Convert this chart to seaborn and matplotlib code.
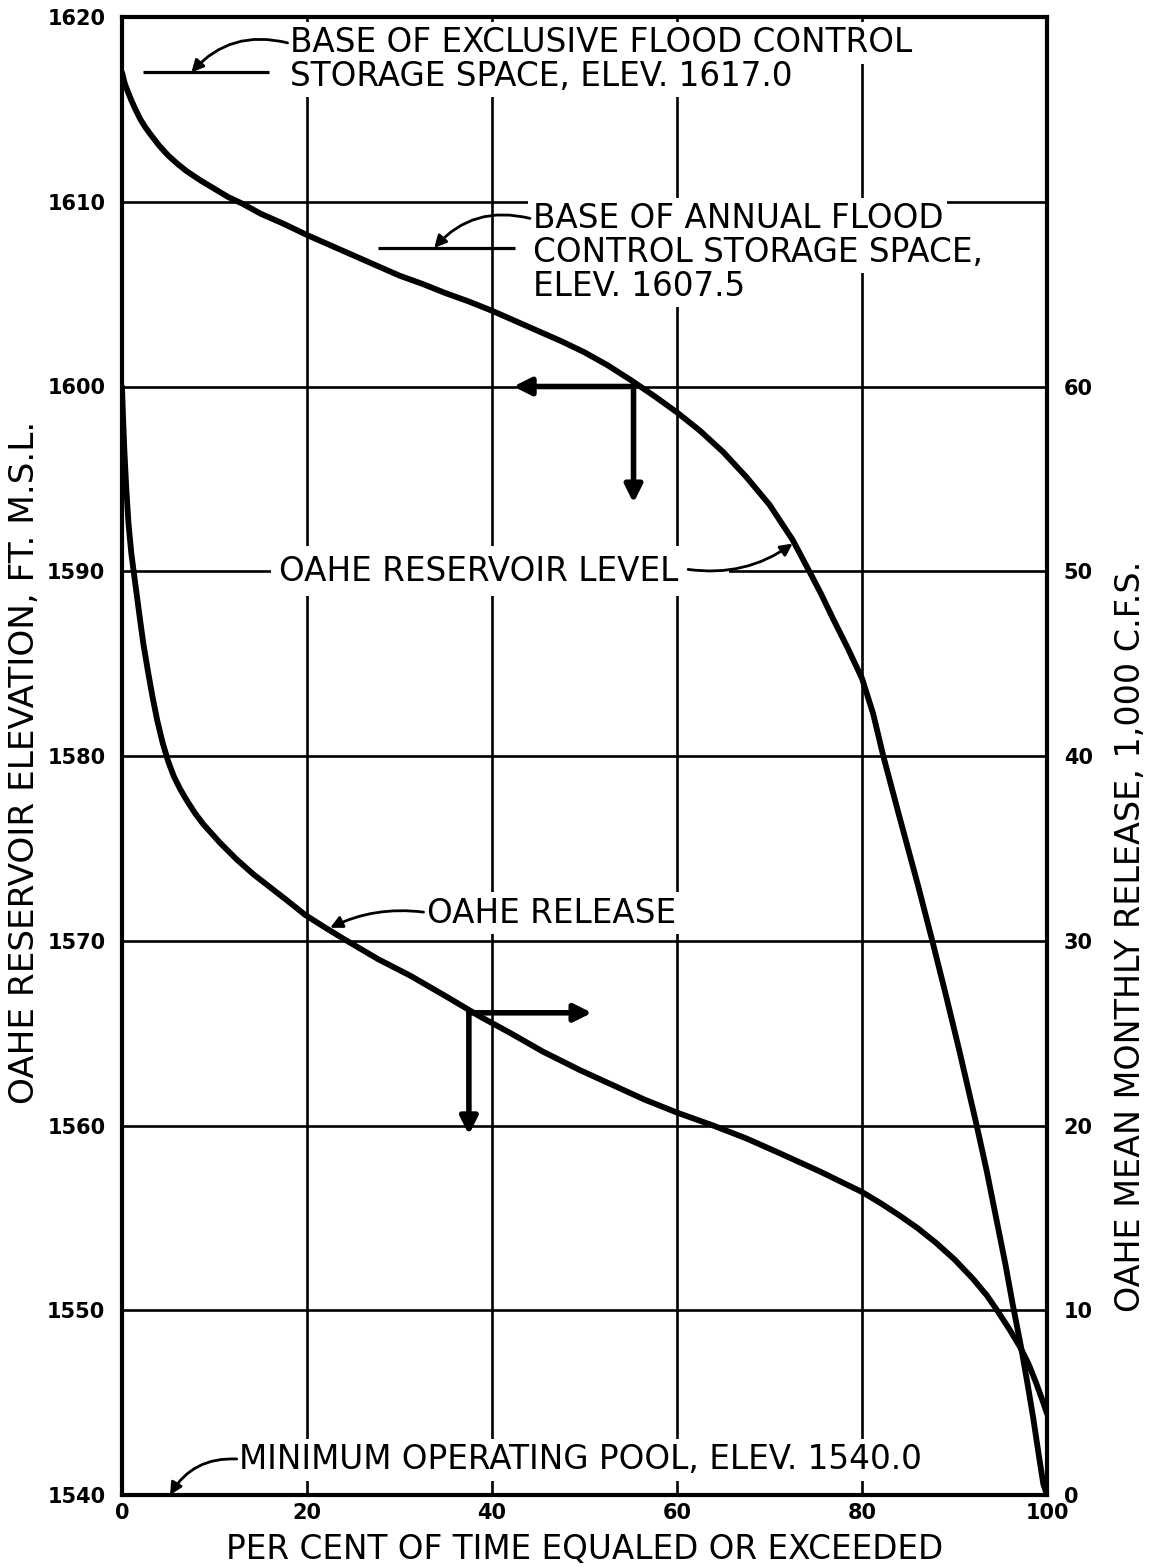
import matplotlib
matplotlib.use("Agg")
import matplotlib.pyplot as plt
import seaborn as sns
import pandas as pd

# ---------------- data ----------------
res_pct = [0, 0.3, 0.6, 1.0, 1.5, 2.0, 2.5, 3.0, 4.0, 5.0, 6.0, 7.0, 8.5, 10, 11.5,
           13, 15, 17.5, 20, 22.5, 25, 27.5, 30, 32.5, 35, 37.5, 40, 42.5, 45, 47.5,
           50, 52.5, 55, 57.5, 60, 62.5, 65, 67.5, 70, 72.5, 74.3, 75.5, 76.8, 78.4,
           80, 81.2, 82.3, 84, 86, 87.6, 89, 90.5, 92.4, 93.5, 94.5, 95.5, 96.3,
           97.2, 97.9, 98.5, 99.1, 99.6, 100]
res_elev = [1617.0, 1616.4, 1616.0, 1615.5, 1614.95, 1614.45, 1614.05, 1613.7,
            1613.05, 1612.5, 1612.05, 1611.65, 1611.15, 1610.7, 1610.25, 1609.9,
            1609.35, 1608.8, 1608.2, 1607.65, 1607.1, 1606.55, 1606.0, 1605.55,
            1605.05, 1604.6, 1604.1, 1603.55, 1603.0, 1602.45, 1601.85, 1601.15,
            1600.35, 1599.5, 1598.6, 1597.6, 1596.45, 1595.1, 1593.6, 1591.7,
            1590.0, 1588.85, 1587.5, 1585.9, 1584.2, 1582.3, 1580.0, 1576.8, 1573.1,
            1570.0, 1567.2, 1564.1, 1560.0, 1557.5, 1555.0, 1552.5, 1550.3, 1548.0,
            1546.0, 1544.2, 1542.2, 1540.6, 1540.0]

rel_pct = [0, 0.1, 0.25, 0.45, 0.7, 1.0, 1.26, 1.6, 2.0, 2.3, 2.8, 3.3, 3.8, 4.4,
           5.0, 5.6, 6.3, 7.0, 7.9, 8.8, 9.7, 10.6, 12.4, 14.2, 16, 17.8, 19.8, 22,
           24.3, 27.7, 31.2, 35, 38.7, 42, 45.5, 49.5, 53, 56.5, 60, 63.9, 67.5,
           71.1, 75.5, 80, 82, 84, 86, 88, 90, 92, 93.5, 94.6, 95.9, 97.1, 98.0,
           98.8, 99.6, 100]
rel_kcfs = [60, 58.5, 56.6, 54.6, 52.6, 51.0, 50.0, 48.7, 47.2, 46.1, 44.6, 43.2,
            41.95, 40.7, 39.7, 38.9, 38.2, 37.6, 36.9, 36.3, 35.8, 35.3, 34.4, 33.6,
            32.9, 32.2, 31.4, 30.7, 30.0, 29.0, 28.1, 27.0, 25.9, 25.0, 24.0, 23.0,
            22.2, 21.4, 20.7, 20.0, 19.3, 18.5, 17.5, 16.4, 15.8, 15.15, 14.45,
            13.65, 12.75, 11.7, 10.8, 10.0, 9.0, 8.0, 7.1, 6.1, 5.0, 4.4]

x_ticks = [0, 20, 40, 60, 80, 100]
left_ticks = [1540, 1550, 1560, 1570, 1580, 1590, 1600, 1610, 1620]
right_ticks = [0, 10, 20, 30, 40, 50, 60]

EXCLUSIVE_BASE = 1617.0
ANNUAL_BASE = 1607.5
MIN_POOL = 1540.0

x_label = "PER CENT OF TIME EQUALED OR EXCEEDED"
left_label = "OAHE RESERVOIR ELEVATION, FT. M.S.L."
right_label = "OAHE MEAN MONTHLY RELEASE, 1,000 C.F.S."

# ---------------- style ----------------
sns.set_style("white")
plt.rcParams['font.family'] = ['DejaVu Sans']
plt.rcParams['text.color'] = 'black'
plt.rcParams['axes.labelcolor'] = 'black'
plt.rcParams['xtick.color'] = 'black'
plt.rcParams['ytick.color'] = 'black'

W, H = 1153, 1568
fig = plt.figure(figsize=(W / 100, H / 100), dpi=100)
L, R, T, B = 122, 1047, 17, 1495
ax = fig.add_axes([L / W, 1 - B / H, (R - L) / W, (B - T) / H])

res_df = pd.DataFrame({"pct": res_pct, "elev": res_elev})
rel_df = pd.DataFrame({"pct": rel_pct, "kcfs": rel_kcfs})

sns.lineplot(data=res_df, x="pct", y="elev", ax=ax, color="black", lw=4.2,
             sort=False, estimator=None, zorder=5)
ax.set_xlim(0, 100)
ax.set_ylim(1540, 1620)
ax.set_xticks(x_ticks)
ax.set_yticks(left_ticks)
TICKFONT = dict(fontsize=15, fontweight="bold")
ax.set_xticklabels([str(v) for v in x_ticks], **TICKFONT)
ax.set_yticklabels([str(v) for v in left_ticks], **TICKFONT)
ax.tick_params(axis="both", length=0)
ax.tick_params(axis="y", pad=12)
ax.tick_params(axis="x", pad=6)
ax.set_axisbelow(True)
ax.grid(True, color="black", lw=1.9)
for s in ax.spines.values():
    s.set_color("black")
    s.set_linewidth(3)

ax2 = ax.twinx()
sns.lineplot(data=rel_df, x="pct", y="kcfs", ax=ax2, color="black", lw=4.2,
             sort=False, estimator=None, zorder=5)
ax2.set_ylim(0, 80)
ax2.set_yticks(right_ticks)
ax2.set_yticklabels([str(v) for v in right_ticks], **TICKFONT)
ax2.tick_params(axis="y", length=0, pad=12)
ax2.grid(False)
for s in ax2.spines.values():
    s.set_visible(False)

ax.set_xlabel(x_label, fontsize=23.5)
ax.xaxis.set_label_coords(0.5005, -0.026)
ax.set_ylabel(left_label, fontsize=24.7)
ax.yaxis.set_label_coords(-0.088, 0.496)
ax2.set_ylabel(right_label, fontsize=24)
ax2.yaxis.set_label_coords(1.072, 0.378)

# ---------------- annotations ----------------
FS = 23.5
box = dict(facecolor="white", edgecolor="none", pad=3)
thin = dict(arrowstyle="-|>", color="black", lw=2.0, mutation_scale=18,
            shrinkA=0, shrinkB=0)

# exclusive flood control base
ax.hlines(EXCLUSIVE_BASE, 2.3, 15.9, color="black", lw=2.3, zorder=4)
ax.text(18.2, 1618.6, "BASE OF EXCLUSIVE FLOOD CONTROL", fontsize=FS,
        ha="left", va="center", bbox=box, zorder=3)
ax.text(18.2, 1616.8, "STORAGE SPACE, ELEV. 1617.0", fontsize=FS,
        ha="left", va="center", bbox=box, zorder=3)
ax.annotate("", xy=(7.5, EXCLUSIVE_BASE), xytext=(17.9, 1618.6),
            arrowprops=dict(thin, connectionstyle="arc3,rad=0.3"), zorder=4)

# annual flood control base
ax.hlines(ANNUAL_BASE, 27.7, 42.5, color="black", lw=2.3, zorder=4)
ax.text(44.4, 1609.1, "BASE OF ANNUAL FLOOD", fontsize=FS,
        ha="left", va="center", bbox=box, zorder=3)
ax.text(44.4, 1607.25, "CONTROL STORAGE SPACE,", fontsize=FS,
        ha="left", va="center", bbox=box, zorder=3)
ax.text(44.4, 1605.4, "ELEV. 1607.5", fontsize=FS,
        ha="left", va="center", bbox=box, zorder=3)
ax.annotate("", xy=(33.75, ANNUAL_BASE), xytext=(44.1, 1609.1),
            arrowprops=dict(thin, connectionstyle="arc3,rad=0.3"), zorder=4)

# reservoir level label
ax.text(17.0, 1590.0, "OAHE RESERVOIR LEVEL    ", fontsize=FS,
        ha="left", va="center", bbox=dict(facecolor="white", edgecolor="none", pad=6),
        zorder=3)
ax.annotate("", xy=(72.5, 1591.5), xytext=(61.2, 1590.1),
            arrowprops=dict(thin, connectionstyle="arc3,rad=0.2"), zorder=4)

# release label
ax.text(33.0, 1571.5, "OAHE RELEASE", fontsize=FS,
        ha="left", va="center", bbox=box, zorder=3)
ax.annotate("", xy=(22.5, 1570.7), xytext=(32.6, 1571.55),
            arrowprops=dict(thin, connectionstyle="arc3,rad=0.15"), zorder=4)

# minimum pool
ax.text(12.7, 1541.9, "MINIMUM OPERATING POOL, ELEV. 1540.0", fontsize=FS,
        ha="left", va="center", bbox=box, zorder=3)
ax.annotate("", xy=(5.2, MIN_POOL), xytext=(12.4, 1541.95),
            arrowprops=dict(thin, connectionstyle="arc3,rad=0.3"), zorder=4)

# direction arrows
thick = dict(arrowstyle="-|>", color="black", lw=4.0, mutation_scale=26,
             shrinkA=0, shrinkB=0)
ax.annotate("", xy=(42.3, 1600.0), xytext=(55.3, 1600.0), arrowprops=thick, zorder=6)
ax.annotate("", xy=(55.3, 1593.7), xytext=(55.3, 1600.0), arrowprops=thick, zorder=6)
ax.annotate("", xy=(50.8, 1566.1), xytext=(37.5, 1566.1), arrowprops=thick, zorder=6)
ax.annotate("", xy=(37.5, 1559.5), xytext=(37.5, 1566.1), arrowprops=thick, zorder=6)

fig.savefig("out.png", dpi=100, facecolor="white")
